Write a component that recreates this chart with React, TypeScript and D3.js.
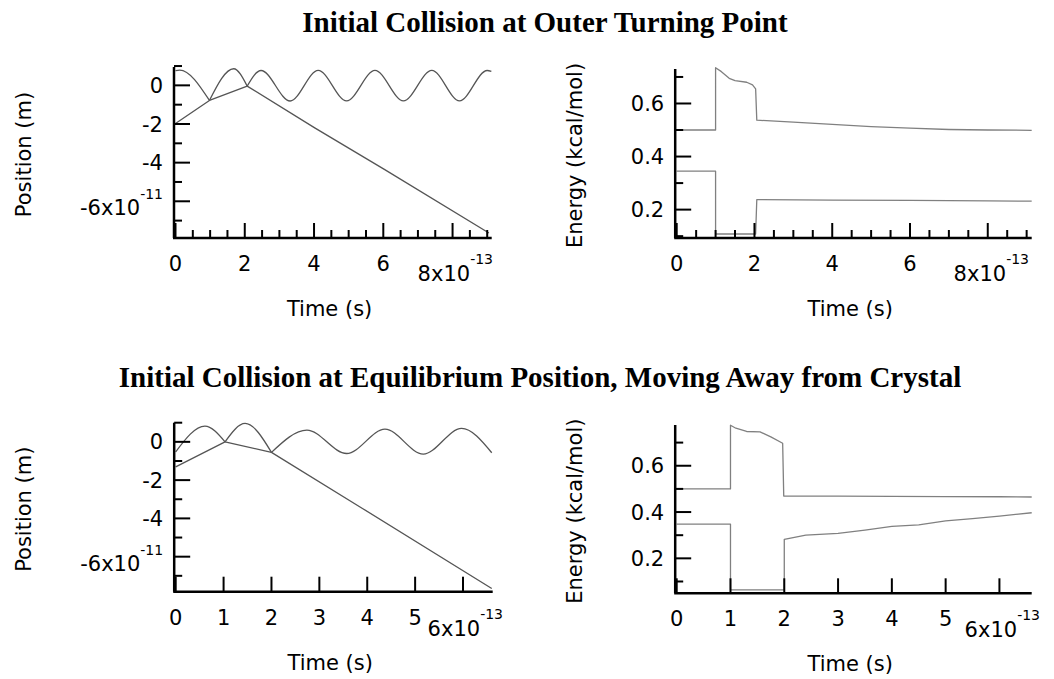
import * as d3 from "d3";

// units: time in 1e-13 s, position in 1e-11 m, energy in kcal/mol
const titleTop = "Initial Collision at Outer Turning Point";
const titleBottom = "Initial Collision at Equilibrium Position, Moving Away from Crystal";

const timeMajorTop = [0, 2, 4, 6, 8];
const timeMinorTop = [0.5, 1, 1.5, 2.5, 3, 3.5, 4.5, 5, 5.5, 6.5, 7, 7.5, 8.5, 9];
const timeMajorBottom = [0, 1, 2, 3, 4, 5, 6];
const posMajor = [0, -2, -4, -6];
const posMinor = [1, -1, -3, -5, -7];
const energyMajor = [0.2, 0.4, 0.6];
const energyMinor = [0.1, 0.3, 0.5, 0.7];

// top row: outer turning point
const topWaveA = [[0, 0.76], [0.12, 0.79], [0.98, -0.78]];
const topWaveB = [[0.98, -0.78], [1.68, 0.86], [2.07, -0.04]];
const topWaveC = [
  [2.07, -0.04], [2.47, 0.77], [3.31, -0.81], [4.12, 0.78], [4.94, -0.8], [5.76, 0.78],
  [6.58, -0.8], [7.4, 0.78], [8.2, -0.8], [9.0, 0.77], [9.12, 0.72],
];
const topParticle = [[0, -1.97], [0.98, -0.78], [2.07, -0.04], [4.02, -2.2], [6.03, -4.35], [9.05, -7.64]];

const topEnergyUpper = [
  [0, 0.5], [1.0, 0.5], [1.0, 0.735], [1.15, 0.72], [1.35, 0.695], [1.5, 0.686], [1.8, 0.68],
  [1.95, 0.67], [2.03, 0.655], [2.06, 0.537], [3, 0.53], [4, 0.521], [5, 0.513], [6, 0.507],
  [7, 0.502], [8, 0.5], [9.13, 0.499],
];
const topEnergyLower = [
  [0, 0.345], [1.0, 0.345], [1.0, 0.108], [2.03, 0.108], [2.06, 0.238], [4, 0.236], [6, 0.235],
  [8, 0.233], [9.13, 0.232],
];

// bottom row: equilibrium position
const botWaveA = [[0, -0.52], [0.61, 0.82], [1.03, 0.0]];
const botWaveB = [[1.03, 0.0], [1.45, 0.96], [2.0, -0.55]];
const botWaveC = [[2.0, -0.55], [2.74, 0.61], [3.57, -0.61], [4.37, 0.66], [5.17, -0.64], [5.97, 0.7], [6.6, -0.57]];
const botParticle = [[0, -1.31], [1.03, 0.0], [2.0, -0.55], [3.9, -3.48], [6.6, -7.66]];

const botEnergyUpper = [
  [0, 0.5], [1.0, 0.5], [1.0, 0.775], [1.1, 0.762], [1.3, 0.748], [1.55, 0.746], [1.75, 0.725],
  [1.97, 0.697], [1.99, 0.469], [3, 0.469], [4, 0.468], [5, 0.467], [6, 0.466], [6.6, 0.465],
];
const botEnergyLower = [
  [0, 0.348], [1.0, 0.348], [1.0, 0.064], [2.0, 0.064], [2.0, 0.282], [2.4, 0.3], [3, 0.308],
  [3.5, 0.322], [4, 0.338], [4.5, 0.345], [5, 0.362], [5.5, 0.372], [6, 0.382], [6.6, 0.397],
];

const FONT = "DejaVu Sans";

function Panel({
  left, right, top, bottom, xDomain, yDomain, xMajor, xMinor, yMajor, yMinor,
  yExp, yFormat, yLabel, yLabelX, curves, stroke, xExpX, xExpDy,
}) {
  const x = d3.scaleLinear().domain(xDomain).range([left, right]);
  const y = d3.scaleLinear().domain(yDomain).range([bottom, top]);
  const smooth = d3.line().x(d => x(d[0])).y(d => y(d[1])).curve(d3.curveMonotoneX);
  const straight = d3.line().x(d => x(d[0])).y(d => y(d[1]));
  const axisX = left - 1.5;
  const lastMajor = xMajor[xMajor.length - 1];
  const lastY = yMajor[yMajor.length - 1];

  return (
    <g>
      {curves.map((c, i) => (
        <path key={i} d={(c.smooth ? smooth : straight)(c.points)} fill="none"
          stroke={stroke} strokeWidth={1.3} strokeLinejoin="round" />
      ))}
      {/* axes */}
      <line x1={axisX} x2={axisX} y1={top} y2={bottom} stroke="#000" strokeWidth={2.5} />
      <line x1={axisX - 1} x2={right} y1={bottom} y2={bottom} stroke="#000" strokeWidth={2.5} />
      {xMajor.map(v => (
        <line key={"xM" + v} x1={x(v)} x2={x(v)} y1={bottom} y2={bottom - 15} stroke="#000" strokeWidth={2} />
      ))}
      {xMinor.map(v => (
        <line key={"xm" + v} x1={x(v)} x2={x(v)} y1={bottom} y2={bottom - 8} stroke="#000" strokeWidth={2} />
      ))}
      {yMajor.map(v => (
        <line key={"yM" + v} x1={axisX} x2={axisX + 16} y1={y(v)} y2={y(v)} stroke="#000" strokeWidth={2} />
      ))}
      {yMinor.map(v => (
        <line key={"ym" + v} x1={axisX} x2={axisX + 8} y1={y(v)} y2={y(v)} stroke="#000" strokeWidth={2} />
      ))}
      {/* x tick labels */}
      {xMajor.filter(v => v !== lastMajor).map(v => (
        <text key={"xl" + v} x={x(v)} y={bottom + 33} textAnchor="middle" fontFamily={FONT} fontSize={21}>{v}</text>
      ))}
      <text x={xExpX} y={bottom + 33 + xExpDy} textAnchor="end" fontFamily={FONT} fontSize={21}>
        <tspan>{lastMajor}x10</tspan>
        <tspan dy={-17} fontSize={14}>-13</tspan>
      </text>
      {/* y tick labels */}
      {yMajor.filter(v => !(yExp && v === lastY)).map(v => (
        <text key={"yl" + v} x={axisX - 11} y={y(v) + 7.5} textAnchor="end" fontFamily={FONT} fontSize={21}>{yFormat(v)}</text>
      ))}
      {yExp && (
        <text x={axisX - 11} y={y(lastY) + 14} textAnchor="end" fontFamily={FONT} fontSize={21}>
          <tspan>{yFormat(lastY)}x10</tspan>
          <tspan dy={-16} fontSize={14}>{yExp}</tspan>
        </text>
      )}
      <text transform={`translate(${yLabelX},${(top + bottom) / 2 + 2}) rotate(-90)`} textAnchor="middle"
        dominantBaseline="central" fontFamily={FONT} fontSize={21}>{yLabel}</text>
      <text x={(left + right) / 2 - 4} y={bottom + 78} textAnchor="middle" fontFamily={FONT} fontSize={21}>Time (s)</text>
    </g>
  );
}

export default function App() {
  const posFmt = v => String(v);
  const enFmt = d3.format(".1f");
  return (
    <svg width={1054} height={679} style={{ position: "absolute", left: 0, top: 0, background: "#fff" }}>
      <text x={545} y={32} textAnchor="middle" fontFamily="Liberation Serif" fontWeight="bold" fontSize={29}>{titleTop}</text>
      <text x={540} y={387} textAnchor="middle" fontFamily="Liberation Serif" fontWeight="bold" fontSize={29}>{titleBottom}</text>

      <Panel left={175.5} right={491.7} top={67} bottom={238} xDomain={[0, 9.13]} yDomain={[-7.9, 0.95]}
        xMajor={timeMajorTop} xMinor={timeMinorTop} yMajor={posMajor} yMinor={posMinor}
        yExp="-11" yFormat={posFmt} yLabel="Position (m)" yLabelX={24} stroke="#555"
        xExpX={493} xExpDy={10}
        curves={[
          { points: topWaveA, smooth: true }, { points: topWaveB, smooth: true },
          { points: topWaveC, smooth: true }, { points: topParticle, smooth: false },
        ]} />

      <Panel left={676.7} right={1031.7} top={69} bottom={238} xDomain={[0, 9.13]} yDomain={[0.093, 0.73]}
        xMajor={timeMajorTop} xMinor={timeMinorTop} yMajor={energyMajor} yMinor={energyMinor}
        yExp={null} yFormat={enFmt} yLabel="Energy (kcal/mol)" yLabelX={575} stroke="#808080"
        xExpX={1029} xExpDy={10}
        curves={[{ points: topEnergyUpper, smooth: false }, { points: topEnergyLower, smooth: false }]} />

      <Panel left={175.7} right={492.7} top={422.7} bottom={591.7} xDomain={[0, 6.62]} yDomain={[-7.83, 1.0]}
        xMajor={timeMajorBottom} xMinor={[]} yMajor={posMajor} yMinor={posMinor}
        yExp="-11" yFormat={posFmt} yLabel="Position (m)" yLabelX={24} stroke="#555"
        xExpX={503} xExpDy={11}
        curves={[
          { points: botWaveA, smooth: true }, { points: botWaveB, smooth: true },
          { points: botWaveC, smooth: true }, { points: botParticle, smooth: false },
        ]} />

      <Panel left={676.7} right={1031.7} top={425} bottom={593.3} xDomain={[0, 6.6]} yDomain={[0.049, 0.776]}
        xMajor={timeMajorBottom} xMinor={[]} yMajor={energyMajor} yMinor={energyMinor}
        yExp={null} yFormat={enFmt} yLabel="Energy (kcal/mol)" yLabelX={575} stroke="#808080"
        xExpX={1040} xExpDy={11}
        curves={[{ points: botEnergyUpper, smooth: false }, { points: botEnergyLower, smooth: false }]} />
    </svg>
  );
}
